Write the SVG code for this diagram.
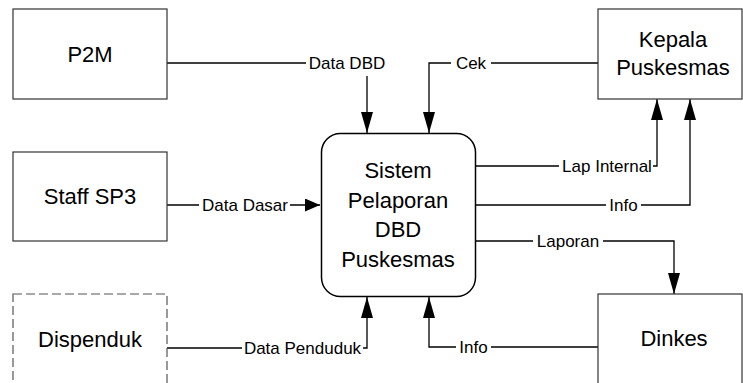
<svg xmlns="http://www.w3.org/2000/svg" width="743" height="383" viewBox="0 0 743 383">
<style>
.box{fill:#fff;stroke:#333;stroke-width:1.2}
.dash{fill:#fff;stroke:#555;stroke-width:1.2;stroke-dasharray:9 4}
.proc{fill:#fff;stroke:#000;stroke-width:1.5}
.t{font-family:"Liberation Sans",Arial,sans-serif;font-size:22px;fill:#000;text-anchor:middle}
.c{fill:none;stroke:#000;stroke-width:1.3}
.lbg{fill:#fff;stroke:none}
.l{font-family:"Liberation Sans",Arial,sans-serif;font-size:17px;fill:#000;text-anchor:middle}
</style>
<defs>
<marker id="av" viewBox="0 0 21 12" refX="21" refY="6" markerWidth="21" markerHeight="12" markerUnits="userSpaceOnUse" orient="auto"><path d="M0,0 L21,6 L0,12 z" fill="#000"/></marker>
<marker id="ah" viewBox="0 0 15 13" refX="15" refY="6.5" markerWidth="15" markerHeight="13" markerUnits="userSpaceOnUse" orient="auto"><path d="M0,0 L15,6.5 L0,13 z" fill="#000"/></marker>
</defs>
<rect width="743" height="383" fill="#fff"/>
<g id="connectors">
<path class="c" d="M167,63 H367 V133" marker-end="url(#av)"/>
<path class="c" d="M598,63 H429 V133" marker-end="url(#av)"/>
<path class="c" d="M167,205 H320" marker-end="url(#ah)"/>
<path class="c" d="M476,166 H657 V99" marker-end="url(#av)"/>
<path class="c" d="M476,205 H690 V99" marker-end="url(#av)"/>
<path class="c" d="M476,241 H674 V294" marker-end="url(#av)"/>
<path class="c" d="M598,347 H429 V297" marker-end="url(#av)"/>
<path class="c" d="M167,348 H367 V297" marker-end="url(#av)"/>
<rect class="lbg" x="306" y="52" width="82" height="24"/>
<text class="l" x="347" y="69">Data DBD</text>
<rect class="lbg" x="451" y="54" width="40" height="18"/>
<text class="l" x="471" y="69">Cek</text>
<rect class="lbg" x="199" y="196" width="91" height="18"/>
<text class="l" x="245" y="211">Data Dasar</text>
<rect class="lbg" x="559" y="157" width="94" height="18"/>
<text class="l" x="607" y="172">Lap Internal</text>
<rect class="lbg" x="606" y="196" width="35" height="18"/>
<text class="l" x="623.5" y="211">Info</text>
<rect class="lbg" x="533" y="232" width="70" height="18"/>
<text class="l" x="568" y="247">Laporan</text>
<rect class="lbg" x="456" y="338" width="35" height="18"/>
<text class="l" x="473.5" y="353">Info</text>
<rect class="lbg" x="242" y="339" width="121" height="18"/>
<text class="l" x="302.5" y="354">Data Penduduk</text>
</g>
<g id="p2m">
<rect class="box" x="13" y="9" width="154" height="90"/>
<text class="t" x="90" y="62">P2M</text>
</g>
<g id="staff-sp3">
<rect class="box" x="13" y="152" width="154" height="89"/>
<text class="t" x="90" y="204">Staff SP3</text>
</g>
<g id="dispenduk">
<rect class="dash" x="13" y="294" width="154" height="110"/>
<text class="t" x="90" y="347">Dispenduk</text>
</g>
<g id="sistem">
<rect class="proc" x="321.5" y="133.5" width="154" height="163" rx="19" ry="19"/>
<text class="t" x="398" y="178">Sistem</text>
<text class="t" x="398" y="207.5">Pelaporan</text>
<text class="t" x="398" y="237">DBD</text>
<text class="t" x="398" y="266.5">Puskesmas</text>
</g>
<g id="kepala-puskesmas">
<rect class="box" x="598" y="9" width="144" height="90"/>
<text class="t" x="673" y="47">Kepala</text>
<text class="t" x="673" y="75">Puskesmas</text>
</g>
<g id="dinkes">
<rect class="box" x="598" y="294" width="144" height="110"/>
<text class="t" x="674" y="346">Dinkes</text>
</g>
</svg>
